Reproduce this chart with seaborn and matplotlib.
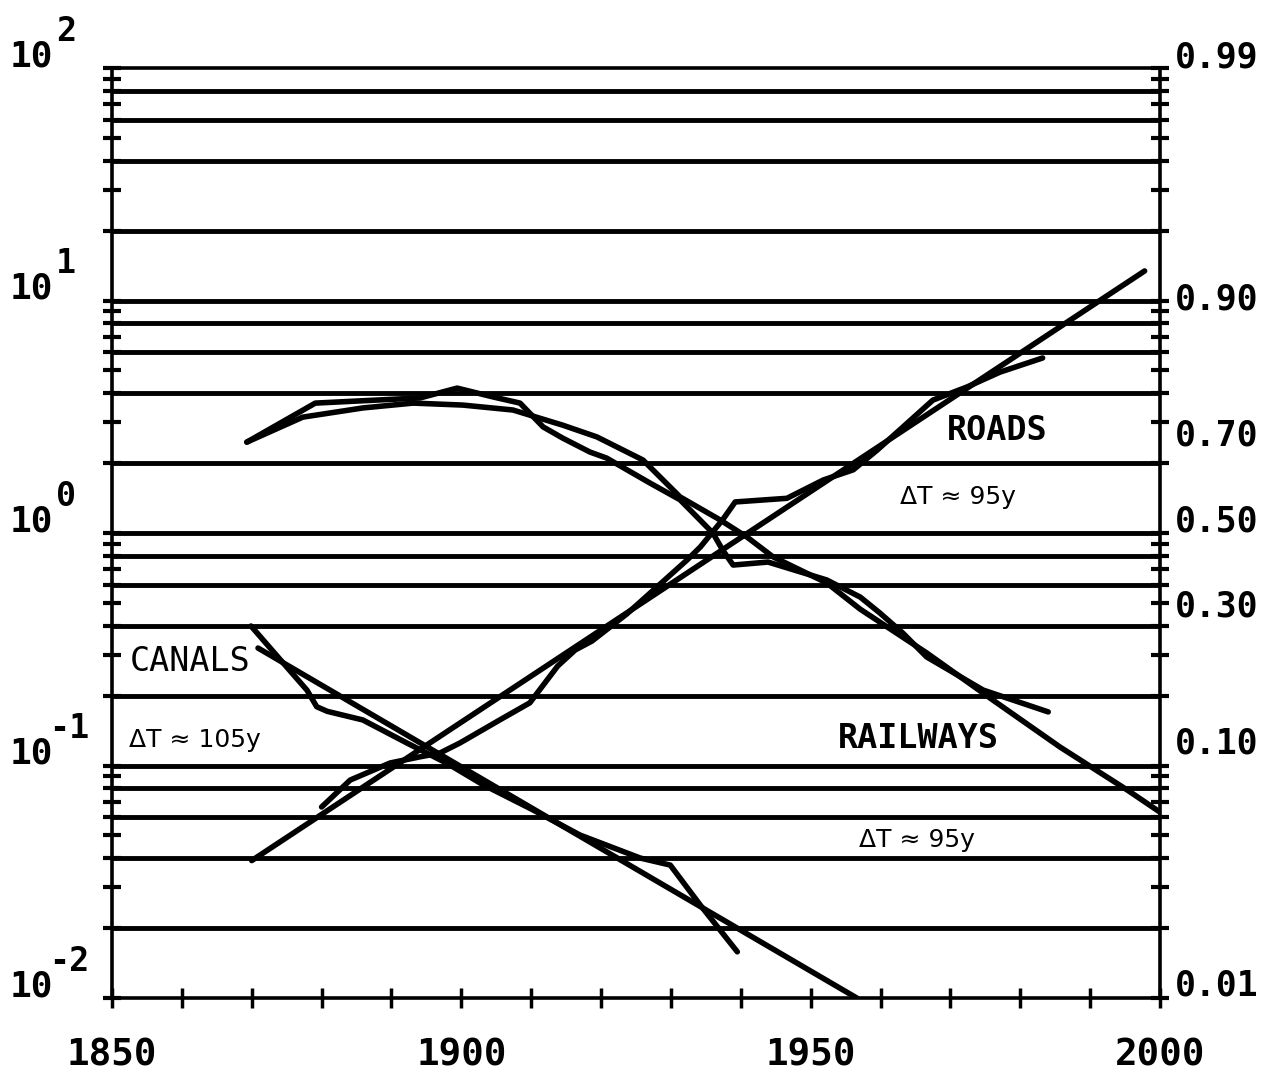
import numpy as np
import matplotlib
matplotlib.use("Agg")
import matplotlib.pyplot as plt
from matplotlib.ticker import LogLocator, NullFormatter, NullLocator, FixedLocator
import seaborn as sns

# ---------------- data (ratio f/(1-f) on Fisher-Pry scale) ----------------
roads_fit_year = [1870.0, 1997.8]
roads_fit_ratio = [0.039, 13.4]

roads_year = [1880.0, 1884.1, 1889.8, 1894.1, 1896.9, 1899.8, 1905.5, 1909.8, 1913.8,
              1916.3, 1918.7, 1923.7, 1932.3, 1934.2, 1937.4, 1939.2, 1946.6, 1951.8,
              1956.1, 1959.5, 1967.5, 1972.4, 1977.1, 1983.2]
roads_ratio = [0.0663, 0.0866, 0.1025, 0.109, 0.113, 0.125, 0.157, 0.186, 0.268,
               0.314, 0.343, 0.449, 0.765, 0.870, 1.14, 1.36, 1.41, 1.69,
               1.87, 2.27, 3.73, 4.25, 4.92, 5.66]

rail_model_year = [1869.3, 1877.3, 1885.9, 1893.1, 1900.2, 1907.4, 1914.5, 1919.4, 1926.0,
                   1931.3, 1937.0, 1940.9, 1944.6, 1949.5, 1952.3, 1957.1, 1966.6, 1976.1,
                   1985.7, 1995.3, 2000.0]
rail_model_ratio = [2.46, 3.15, 3.45, 3.62, 3.55, 3.38, 2.91, 2.59, 2.06,
                    1.43, 1.14, 0.96, 0.79, 0.67, 0.61, 0.47, 0.305, 0.191,
                    0.120, 0.0785, 0.063]

rail_year = [1869.3, 1879.1, 1894.1, 1899.4, 1904.5, 1908.4, 1911.7, 1914.5, 1918.4,
             1920.8, 1927.0, 1931.3, 1936.0, 1937.4, 1938.9, 1943.9, 1952.3, 1957.1,
             1959.9, 1963.2, 1966.6, 1974.7, 1978.1, 1984.0]
rail_ratio = [2.46, 3.62, 3.81, 4.2, 3.85, 3.62, 2.86, 2.56, 2.23,
              2.10, 1.64, 1.39, 1.0, 0.845, 0.728, 0.75, 0.628, 0.53,
              0.453, 0.371, 0.293, 0.211, 0.195, 0.170]

canal_fit_year = [1870.9, 1956.6]
canal_fit_ratio = [0.32, 0.01]

canal_year = [1869.9, 1874.5, 1877.9, 1879.3, 1880.8, 1885.9, 1892.2, 1898.0, 1903.0,
              1910.0, 1917.0, 1925.6, 1929.9, 1934.2, 1939.5]
canal_ratio = [0.398, 0.276, 0.211, 0.179, 0.171, 0.157, 0.125, 0.102, 0.083,
               0.065, 0.0502, 0.040, 0.0373, 0.0251, 0.0158]

grid_ratios = [0.02, 0.04, 0.06, 0.08, 0.1, 0.2, 0.4, 0.6, 0.8, 1, 2, 4, 6, 8,
               10, 20, 40, 60, 80]
decades = [0.01, 0.1, 1, 10, 100]
decade_exp = ["-2", "-1", "0", "1", "2"]
share_labels = ["0.01", "0.10", "0.30", "0.50", "0.70", "0.90", "0.99"]
share_values = [0.01, 0.10, 0.30, 0.50, 0.70, 0.90, 0.99]
year_labels = [1850, 1900, 1950, 2000]

# ---------------- style ----------------
sns.set_style("white")
plt.rcParams['font.family'] = ['DejaVu Sans Mono', 'DejaVu Sans']
plt.rcParams['text.color'] = 'black'
plt.rcParams['xtick.color'] = 'black'
plt.rcParams['ytick.color'] = 'black'
plt.rcParams['xtick.labelcolor'] = 'black'

W, H = 1276, 1081
fig = plt.figure(figsize=(W / 100, H / 100), dpi=100)
ax = fig.add_axes([112 / W, 83 / H, 1048 / W, 930 / H])
ax.set_yscale('log')
ax.set_xlim(1850, 2000)
ax.set_ylim(0.01, 100)

ax.hlines(grid_ratios, 1850, 2000, color='black', linewidth=3.5, zorder=1)

line_kw = dict(color='black', linewidth=4.0, sort=False, estimator=None, ax=ax,
               legend=False, solid_joinstyle='round', solid_capstyle='round', zorder=3)
for xs, ys in [(roads_fit_year, roads_fit_ratio), (roads_year, roads_ratio),
               (rail_model_year, rail_model_ratio), (rail_year, rail_ratio),
               (canal_fit_year, canal_fit_ratio), (canal_year, canal_ratio)]:
    sns.lineplot(x=xs, y=ys, **line_kw)

# spines
for s in ax.spines.values():
    s.set_visible(True)
    s.set_color('black')
    s.set_linewidth(2.6)

# y ticks (log positions, both sides), no default labels
ax.yaxis.set_major_locator(LogLocator(base=10, subs=np.arange(1, 10), numticks=100))
ax.yaxis.set_minor_locator(NullLocator())
ax.yaxis.set_major_formatter(NullFormatter())
ax.tick_params(axis='y', which='major', direction='inout', length=13, width=3,
               left=True, right=True, labelleft=False, labelright=False, color='black')

# x ticks
ax.xaxis.set_major_locator(FixedLocator(year_labels))
ax.xaxis.set_minor_locator(FixedLocator(list(range(1850, 2001, 10))))
ax.set_xticklabels([str(y) for y in year_labels])
ax.tick_params(axis='x', which='both', direction='inout', length=15, width=2.5,
               bottom=True, top=False, color='black')
ax.tick_params(axis='x', which='major', pad=21, labelsize=27, labelcolor='black')
for lab in ax.get_xticklabels():
    lab.set_fontweight('bold')
    lab.set_family('DejaVu Sans Mono')
ax.set_xlabel('')
ax.set_ylabel('')

# left decade labels: "10" + exponent
for v, e in zip(decades, decade_exp):
    ax.annotate("10", xy=(0, v), xycoords=('axes fraction', 'data'),
                xytext=(-58, 8.5), textcoords='offset points', ha='center', va='center',
                fontsize=26, fontweight='bold', family='DejaVu Sans Mono',
                color='black', annotation_clip=False)
    ax.annotate(e, xy=(0, v), xycoords=('axes fraction', 'data'),
                xytext=(-31 if e.startswith('-') else -33, 26.5), textcoords='offset points',
                ha='center', va='center', fontsize=24, fontweight='bold',
                family='DejaVu Sans Mono', color='black', annotation_clip=False)

# right share labels
for lab, f in zip(share_labels, share_values):
    ax.annotate(lab, xy=(1, f / (1 - f)), xycoords=('axes fraction', 'data'),
                xytext=(11, 8.5), textcoords='offset points', ha='left', va='center',
                fontsize=25, fontweight='bold', family='DejaVu Sans Mono',
                color='black', annotation_clip=False)

# annotations
ax.text(1976.7, 2.77, "ROADS", ha='center', va='center', fontsize=24,
        fontweight='bold', family='DejaVu Sans Mono', color='black', zorder=4)
ax.text(1971.1, 1.43, "ΔT ≈ 95y", ha='center', va='center', fontsize=18,
        family='DejaVu Sans', color='black', zorder=4)
ax.text(1861.2, 0.279, "CANALS", ha='center', va='center', fontsize=24,
        family='DejaVu Sans Mono', color='black', zorder=4)
ax.text(1861.9, 0.129, "ΔT ≈ 105y", ha='center', va='center', fontsize=18,
        family='DejaVu Sans', color='black', zorder=4)
ax.text(1965.4, 0.131, "RAILWAYS", ha='center', va='center', fontsize=24,
        fontweight='bold', family='DejaVu Sans Mono', color='black', zorder=4)
ax.text(1965.2, 0.0478, "ΔT ≈ 95y", ha='center', va='center', fontsize=18,
        family='DejaVu Sans', color='black', zorder=4)

fig.savefig("out.png", dpi=100, facecolor='white')
